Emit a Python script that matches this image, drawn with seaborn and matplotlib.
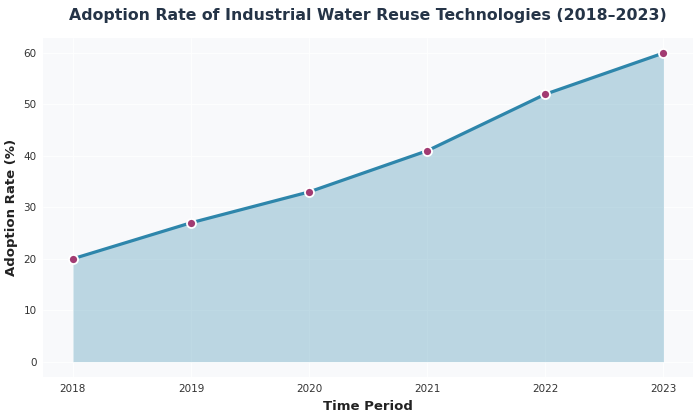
import matplotlib
matplotlib.use("Agg")
import matplotlib.pyplot as plt
import seaborn as sns
import pandas as pd

# --- Datos ---
years = [2018, 2019, 2020, 2021, 2022, 2023]
adoption = [20, 27, 33, 41, 52, 60]

df = pd.DataFrame({"Year": years, "Adoption": adoption})

sns.set_theme(style="whitegrid")
plt.rcParams["font.family"] = ["DejaVu Sans"]

fig, ax = plt.subplots(figsize=(7, 4.18), dpi=100)
ax.set_facecolor("#f8f9fb")
fig.patch.set_facecolor("white")

ax.fill_between(df["Year"], df["Adoption"], color="#2e86ab", alpha=0.3, linewidth=0)
sns.lineplot(data=df, x="Year", y="Adoption", ax=ax, color="#2e86ab", linewidth=2.3,
             marker="o", markersize=6.5, markerfacecolor="#a23b72",
             markeredgecolor="white", markeredgewidth=1.3)

ax.grid(True, color="white", linewidth=0.6)
for s in ax.spines.values():
    s.set_visible(False)

ax.set_xticks(years)
ax.set_xticklabels([str(y) for y in years])
ax.set_yticks(range(0, 61, 10))
ax.set_ylim(-3, 63)
ax.set_xlim(2017.75, 2023.25)
ax.tick_params(labelsize=7.5, colors="#333333", pad=5, length=0)

ax.set_xlabel("Time Period", fontsize=9.5, fontweight="bold", color="#222222", labelpad=4)
ax.set_ylabel("Adoption Rate (%)", fontsize=9.5, fontweight="bold", color="#222222", labelpad=4)
ax.set_title("Adoption Rate of Industrial Water Reuse Technologies (2018\u20132023)",
             fontsize=11.35, fontweight="bold", color="#253447", pad=13)

fig.subplots_adjust(left=0.062, right=0.99, top=0.91, bottom=0.098)
fig.savefig("out.png", dpi=100)
plt.close(fig)
